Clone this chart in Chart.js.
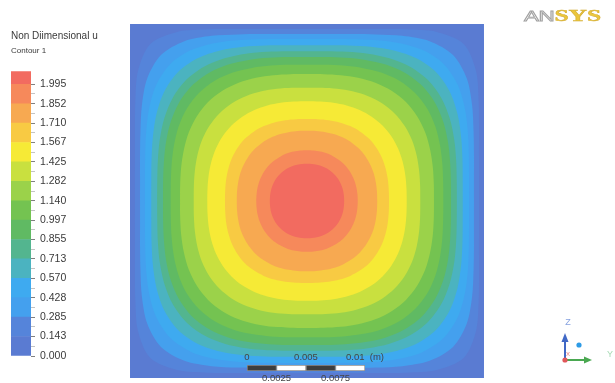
<!DOCTYPE html>
<html>
<head>
<meta charset="utf-8">
<title>Non Diimensional u</title>
<script src="https://cdn.jsdelivr.net/npm/chart.js@4/dist/chart.umd.min.js"></script>
<style>
  html, body { margin: 0; padding: 0; background: #ffffff; }
  #wrap { position: relative; width: 615px; height: 383px; overflow: hidden;
          font-family: "Liberation Sans", Arial, sans-serif; background: #ffffff; }
  canvas { position: absolute; }
  #plot { left: 0; top: 0; }
  #legendBar { left: 0; top: 60px; }
  #scaleBar { left: 200px; top: 343px; }
  .title { position: absolute; left: 11px; color: #3a3a3a; white-space: nowrap; line-height: 1; }
  #t1 { top: 31px; font-size: 10px; }
  #t2 { top: 47px; font-size: 8px; }
  #logo { position: absolute; left: 524px; top: 7px; height: 17px; line-height: 17px;
          white-space: nowrap; transform: scaleX(1.5); transform-origin: left top; }
  #logo .an { font-family: "Liberation Sans", Arial, sans-serif; font-size: 15px; color: #ffffff;
              -webkit-text-stroke: 0.8px #a0a0a0; letter-spacing: -0.3px; }
  #logo .sys { font-family: "Liberation Serif", serif; font-weight: bold; font-size: 17px;
               color: #ebc63c; -webkit-text-stroke: 0.4px #cfa830; }
</style>
</head>
<body>
<div id="wrap">
  <canvas id="plot" width="615" height="383"></canvas>
  <canvas id="legendBar" width="100" height="310"></canvas>
  <canvas id="scaleBar" width="210" height="40"></canvas>
  <div class="title" id="t1">Non Diimensional u</div>
  <div class="title" id="t2">Contour 1</div>
  <div id="logo"><span class="an">AN</span><span class="sys">SYS</span></div>
</div>
<script>
// Contour levels of the non-dimensional axial velocity (colour-bar tick values)
const levels = [0.000, 0.143, 0.285, 0.428, 0.570, 0.713, 0.855, 0.997,
                1.140, 1.282, 1.425, 1.567, 1.710, 1.852, 1.995];

// Peak velocity at the duct centre (top of the colour bar)
const uPeak = 2.09;

// Fill colour of each band, lowest band first; the last band lies above 1.995
const bandColors = ['#5a7bd2', '#5584da', '#44a0ee', '#3eaaf0', '#4bb3c0',
                    '#53b58f', '#60ba63', '#74c351', '#9bd24a', '#c9e03f',
                    '#f6ea36', '#f8ca43', '#f7a951', '#f6895b', '#f26b60'];

// Duct half-width (mm)
const halfWidth = 15;

// Sampling angles (deg) of every iso-line inside one octant of the square duct
const octantAngles = [0, 7.5, 15, 22.5, 30, 37.5, 45];

// Distance (mm) from the duct centre to each iso-line at those angles,
// one row per level in `levels` (row 0 is the wall, u = 0)
const isoRadii = [
  [15.00, 15.13, 15.53, 16.24, 17.32, 18.91, 21.21],
  [14.58, 14.71, 15.09, 15.78, 16.80, 18.06, 18.80],
  [14.15, 14.27, 14.65, 15.28, 16.16, 17.07, 17.50],
  [13.73, 13.85, 14.20, 14.77, 15.47, 16.12, 16.40],
  [13.20, 13.31, 13.64, 14.14, 14.73, 15.24, 15.45],
  [12.70, 12.80, 13.09, 13.51, 13.97, 14.35, 14.50],
  [12.20, 12.30, 12.56, 12.94, 13.35, 13.67, 13.80],
  [11.55, 11.64, 11.88, 12.21, 12.57, 12.85, 12.95],
  [10.76, 10.84, 11.04, 11.30, 11.58, 11.78, 11.86],
  [ 9.60,  9.67,  9.84, 10.06, 10.28, 10.44, 10.50],
  [ 8.45,  8.50,  8.62,  8.77,  8.91,  9.01,  9.05],
  [ 6.95,  6.99,  7.09,  7.21,  7.33,  7.41,  7.45],
  [ 5.95,  5.98,  6.04,  6.12,  6.18,  6.23,  6.25],
  [ 4.30,  4.31,  4.34,  4.37,  4.39,  4.41,  4.42],
  [ 3.15,  3.16,  3.18,  3.20,  3.22,  3.23,  3.23]
];

// Scale bar (m)
const scaleSegments = [[0, 0.0025], [0.0025, 0.005], [0.005, 0.0075], [0.0075, 0.01]];
const scaleTicksTop = [0, 0.005, 0.01];
const scaleTicksBottom = [0.0025, 0.0075];

// ---------------------------------------------------------------------------

// Angular positions round the duct; each quarter repeats the octant samples
// forward then mirrored, following the duct's symmetry
const quarterIndex = [0, 1, 2, 3, 4, 5, 6, 5, 4, 3, 2, 1];
const angleLabels = [];
for (let q = 0; q < 4; q++) {
  quarterIndex.forEach((k, j) => angleLabels.push((q * 90 + j * 7.5) + '°'));
}
function fullRing(oct) {
  const quarter = quarterIndex.map(k => oct[k]);
  return [...quarter, ...quarter, ...quarter, ...quarter];
}

const font = '"Liberation Sans", Arial, sans-serif';

// Coordinate triad in the lower-right corner
const triad = {
  id: 'triad',
  afterDraw(chart) {
    const c = chart.ctx;
    const ox = 565, oy = 360;
    c.save();
    c.lineWidth = 2;
    c.strokeStyle = c.fillStyle = '#4068c6';
    c.beginPath(); c.moveTo(ox, oy); c.lineTo(ox, oy - 20); c.stroke();
    c.beginPath(); c.moveTo(ox, oy - 27); c.lineTo(ox - 3.5, oy - 18); c.lineTo(ox + 3.5, oy - 18);
    c.closePath(); c.fill();
    c.strokeStyle = c.fillStyle = '#4aa851';
    c.beginPath(); c.moveTo(ox, oy); c.lineTo(ox + 21, oy); c.stroke();
    c.beginPath(); c.moveTo(ox + 27, oy); c.lineTo(ox + 19, oy - 3.5); c.lineTo(ox + 19, oy + 3.5);
    c.closePath(); c.fill();
    c.fillStyle = '#e0575a';
    c.beginPath(); c.arc(ox, oy, 2.6, 0, Math.PI * 2); c.fill();
    c.fillStyle = '#2d9be6';
    c.beginPath(); c.arc(ox + 14, oy - 15, 2.6, 0, Math.PI * 2); c.fill();
    c.textAlign = 'center'; c.textBaseline = 'middle';
    c.font = '9px ' + font;
    c.fillStyle = '#86a2e0'; c.fillText('Z', ox + 3, oy - 37);
    c.fillStyle = '#a6dab4'; c.fillText('Y', ox + 45, oy - 5);
    c.font = '6px ' + font;
    c.fillStyle = '#e77a7a'; c.fillText('X', ox + 3, oy - 6);
    c.restore();
  }
};

// Filled iso-velocity bands: each closed iso-line is filled with the band colour above it
new Chart(document.getElementById('plot'), {
  type: 'radar',
  data: {
    labels: angleLabels,
    datasets: isoRadii.map((row, i) => ({
      label: levels[i].toFixed(3),
      data: fullRing(row),
      backgroundColor: bandColors[i],
      borderWidth: 0,
      pointRadius: 0,
      fill: 'origin',
      tension: i === 0 ? 0 : 0.3,
      order: isoRadii.length - i
    }))
  },
  options: {
    responsive: false,
    animation: false,
    events: [],
    layout: { padding: { left: 130, right: 131, top: 24, bottom: 5 } },
    plugins: { legend: { display: false }, tooltip: { enabled: false } },
    scales: { r: { display: false, min: 0, max: halfWidth, startAngle: 0 } }
  },
  plugins: [triad]
});

// Colour bar with contour-level ticks
const minorTicks = levels.slice(0, -1).map((v, i) => (v + levels[i + 1]) / 2);
const legendTicks = [...levels, ...minorTicks].sort((a, b) => a - b);

new Chart(document.getElementById('legendBar'), {
  type: 'bar',
  data: {
    labels: ['u'],
    datasets: bandColors.map((col, i) => ({
      data: [[levels[i], i + 1 < levels.length ? levels[i + 1] : uPeak]],
      backgroundColor: col,
      borderWidth: 0,
      grouped: false,
      barPercentage: 1,
      categoryPercentage: 1
    }))
  },
  options: {
    responsive: false,
    animation: false,
    events: [],
    layout: { padding: { left: 11, right: 0, top: 9, bottom: 14 } },
    plugins: { legend: { display: false }, tooltip: { enabled: false } },
    scales: {
      x: { display: false },
      y: {
        position: 'right',
        min: 0,
        max: uPeak,
        afterBuildTicks: s => { s.ticks = legendTicks.map(v => ({ value: v })); },
        afterFit: s => { s.width = 69; },
        border: { display: false },
        grid: {
          drawOnChartArea: false,
          drawTicks: true,
          tickLength: 4,
          tickWidth: 1,
          tickColor: ctx => (ctx.tick && levels.includes(ctx.tick.value)) ? '#808080' : '#c4c4c4'
        },
        ticks: {
          autoSkip: false,
          padding: 5,
          color: '#3a3a3a',
          font: { family: font, size: 10.5 },
          callback: v => levels.includes(v) ? v.toFixed(3) : ''
        }
      }
    }
  }
});

// Length scale bar, metres
const scaleAxis = (position, ticks, height, labelFn) => ({
  type: 'linear',
  position,
  axis: 'x',
  min: 0,
  max: 0.01,
  afterBuildTicks: s => { s.ticks = ticks.map(v => ({ value: v })); },
  afterFit: s => { s.height = height; },
  grid: { display: false, drawTicks: false },
  border: { display: false },
  ticks: { autoSkip: false, maxRotation: 0, padding: 2, color: '#454545',
           font: { family: font, size: 9.5 }, callback: labelFn }
});

new Chart(document.getElementById('scaleBar'), {
  type: 'bar',
  data: {
    labels: ['scale'],
    datasets: scaleSegments.map((seg, i) => ({
      data: [seg],
      backgroundColor: i % 2 ? '#ffffff' : '#3d3d3d',
      borderColor: '#8c8c8c',
      borderWidth: 1,
      borderSkipped: false,
      grouped: false,
      barPercentage: 1,
      categoryPercentage: 1
    }))
  },
  options: {
    indexAxis: 'y',
    responsive: false,
    animation: false,
    events: [],
    layout: { padding: { left: 47, right: 45, top: 0, bottom: 0 } },
    plugins: { legend: { display: false }, tooltip: { enabled: false } },
    scales: {
      x: scaleAxis('top', scaleTicksTop, 22, v => v === 0.01 ? '0.01  (m)' : String(v)),
      x2: scaleAxis('bottom', scaleTicksBottom, 12, v => String(v)),
      y: { display: false }
    }
  }
});
</script>
</body>
</html>
